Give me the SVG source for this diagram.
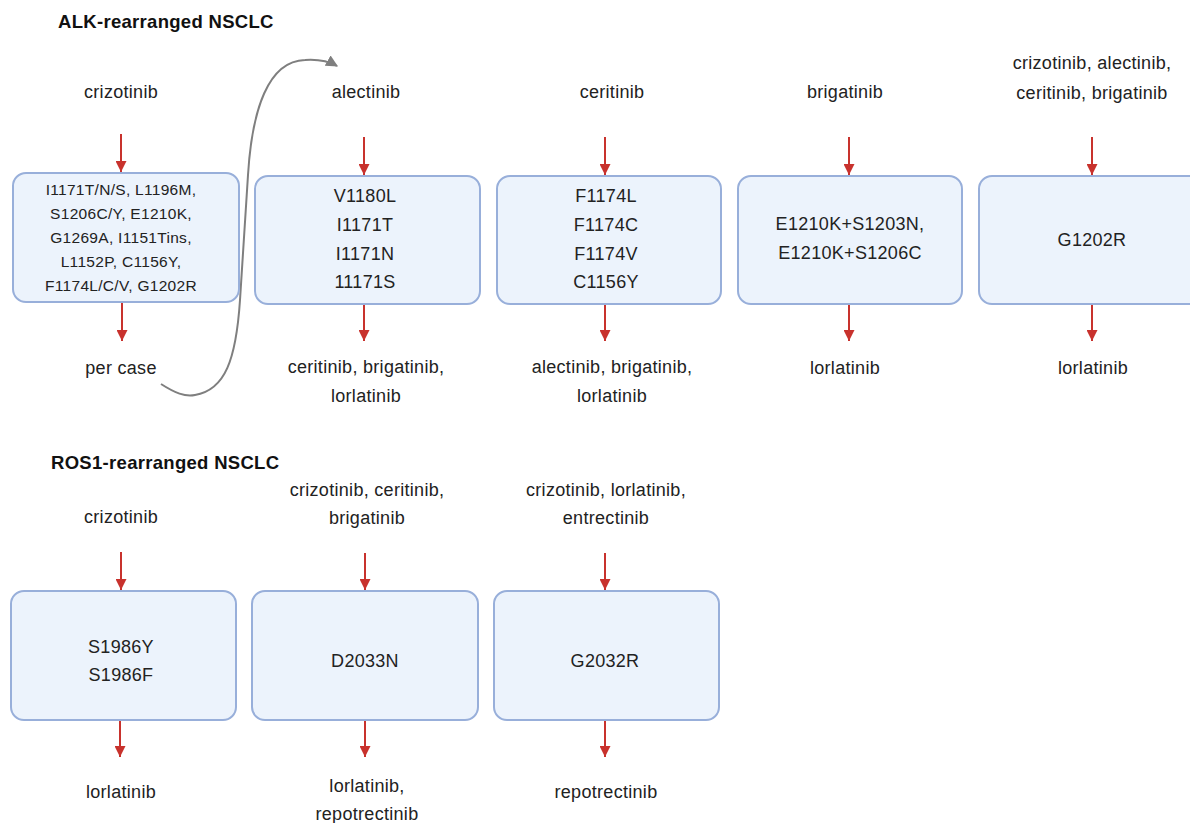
<svg xmlns="http://www.w3.org/2000/svg" width="1190" height="823" viewBox="0 0 1190 823">
<defs>
<marker id="ar" viewBox="0 0 10 10" refX="10" refY="5" markerWidth="6" markerHeight="5.5" markerUnits="strokeWidth" orient="auto"><path d="M0,0 L10,5 L0,10 z" fill="#c8322d"/></marker>
<marker id="ag" viewBox="0 0 10 10" refX="9" refY="5" markerWidth="6" markerHeight="6" markerUnits="strokeWidth" orient="auto"><path d="M0,0 L10,5 L0,10 z" fill="#7f7f7f"/></marker>
</defs>
<style>
.b{fill:#ecf3fc;stroke:#98afda;stroke-width:2}
.t{font-family:"Liberation Sans",Arial,sans-serif;font-size:18px;letter-spacing:0.3px;fill:#222;text-anchor:middle;dominant-baseline:central}
.s{font-size:15.5px}
.h{font-family:"Liberation Sans",Arial,sans-serif;font-size:18.5px;letter-spacing:0.3px;font-weight:bold;fill:#111}
.a{stroke:#c8322d;stroke-width:2;fill:none;marker-end:url(#ar)}
</style>
<rect width="1190" height="823" fill="#fff"/>
<text class="h" x="58" y="28">ALK-rearranged NSCLC</text>
<text class="h" x="51" y="469">ROS1-rearranged NSCLC</text>
<g id="connectors">
<path class="a" d="M121,134 V172"/>
<path class="a" d="M122,302 V341"/>
<path class="a" d="M364,137 V175"/>
<path class="a" d="M364,304 V341"/>
<path class="a" d="M605,137 V175"/>
<path class="a" d="M605,304 V341"/>
<path class="a" d="M849,137 V175"/>
<path class="a" d="M849,304 V341"/>
<path class="a" d="M1092,137 V175"/>
<path class="a" d="M1092,304 V341"/>
<path class="a" d="M121,552 V590"/>
<path class="a" d="M120,720 V757"/>
<path class="a" d="M365,553 V590"/>
<path class="a" d="M365,720 V757"/>
<path class="a" d="M605,553 V590"/>
<path class="a" d="M605,720 V757"/>
<path d="M161,384 C175,393 185,397 195,395 C225,390 236,360 240,300 L248,175 C252,110 268,61 305,60 C320,59 330,62 337,66" fill="none" stroke="#7f7f7f" stroke-width="2" marker-end="url(#ag)"/>
</g>
<g id="alk1"><rect class="b" x="13" y="173" width="226" height="129" rx="13"/>
<text class="t s" x="121" y="189">I1171T/N/S, L1196M,</text>
<text class="t s" x="121" y="213">S1206C/Y, E1210K,</text>
<text class="t s" x="121" y="237">G1269A, I1151Tins,</text>
<text class="t s" x="121" y="261">L1152P, C1156Y,</text>
<text class="t s" x="121" y="285">F1174L/C/V, G1202R</text></g>
<g id="alk2"><rect class="b" x="255" y="176" width="225" height="128" rx="13"/>
<text class="t" x="365" y="196">V1180L</text><text class="t" x="365" y="225">I1171T</text><text class="t" x="365" y="254">I1171N</text><text class="t" x="365" y="282">11171S</text></g>
<g id="alk3"><rect class="b" x="497" y="176" width="224" height="128" rx="13"/>
<text class="t" x="606" y="196">F1174L</text><text class="t" x="606" y="225">F1174C</text><text class="t" x="606" y="254">F1174V</text><text class="t" x="606" y="282">C1156Y</text></g>
<g id="alk4"><rect class="b" x="738" y="176" width="224" height="128" rx="13"/>
<text class="t" x="850" y="224">E1210K+S1203N,</text><text class="t" x="850" y="253">E1210K+S1206C</text></g>
<g id="alk5"><rect class="b" x="979" y="176" width="230" height="128" rx="13"/>
<text class="t" x="1092" y="240">G1202R</text></g>
<g id="alkdrugs">
<text class="t" x="121" y="92">crizotinib</text>
<text class="t" x="121" y="368">per case</text>
<text class="t" x="366" y="92">alectinib</text>
<text class="t" x="366" y="367">ceritinib, brigatinib,</text>
<text class="t" x="366" y="396">lorlatinib</text>
<text class="t" x="612" y="92">ceritinib</text>
<text class="t" x="612" y="367">alectinib, brigatinib,</text>
<text class="t" x="612" y="396">lorlatinib</text>
<text class="t" x="845" y="92">brigatinib</text>
<text class="t" x="845" y="368">lorlatinib</text>
<text class="t" x="1092" y="63">crizotinib, alectinib,</text>
<text class="t" x="1092" y="93">ceritinib, brigatinib</text>
<text class="t" x="1093" y="368">lorlatinib</text>
</g>
<g id="ros1"><rect class="b" x="11" y="591" width="225" height="129" rx="13"/>
<text class="t" x="121" y="647">S1986Y</text><text class="t" x="121" y="675">S1986F</text></g>
<g id="ros2"><rect class="b" x="252" y="591" width="226" height="129" rx="13"/>
<text class="t" x="365" y="661">D2033N</text></g>
<g id="ros3"><rect class="b" x="494" y="591" width="225" height="129" rx="13"/>
<text class="t" x="605" y="661">G2032R</text></g>
<g id="rosdrugs">
<text class="t" x="121" y="517">crizotinib</text>
<text class="t" x="121" y="792">lorlatinib</text>
<text class="t" x="367" y="490">crizotinib, ceritinib,</text>
<text class="t" x="367" y="518">brigatinib</text>
<text class="t" x="367" y="786">lorlatinib,</text>
<text class="t" x="367" y="814">repotrectinib</text>
<text class="t" x="606" y="490">crizotinib, lorlatinib,</text>
<text class="t" x="606" y="518">entrectinib</text>
<text class="t" x="606" y="792">repotrectinib</text>
</g>
</svg>
